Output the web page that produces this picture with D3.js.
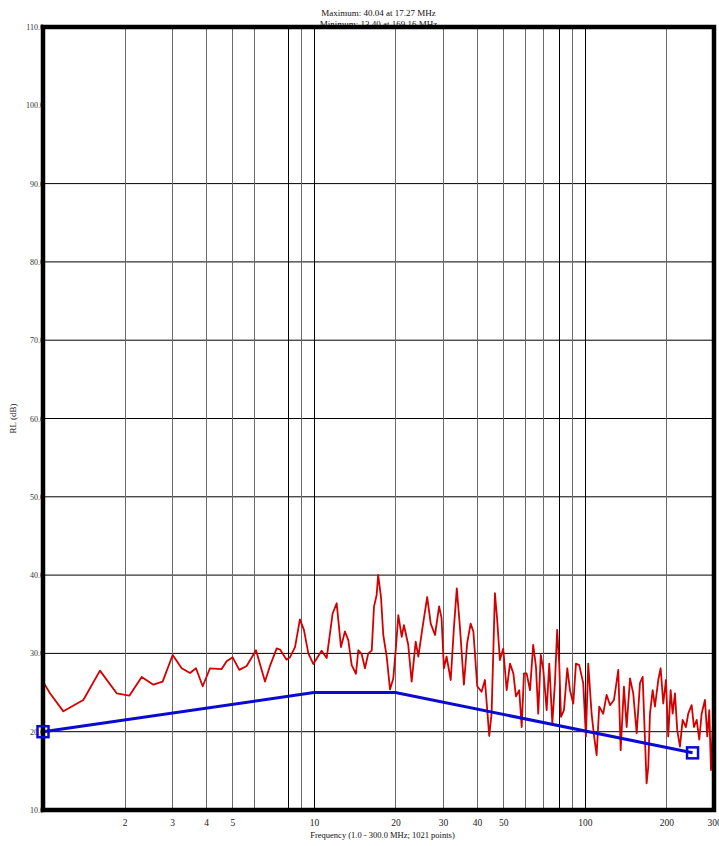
<!DOCTYPE html>
<html>
<head>
<meta charset="utf-8">
<script src="https://cdn.jsdelivr.net/npm/d3@7"></script>
<style>
  body { margin: 0; background: #fff; }
  svg { display: block; }
</style>
</head>
<body>
<svg id="chart"></svg>
<script>
// measured trace (MHz, dB)
const freqMHz = [
  1.0, 1.061, 1.189, 1.409, 1.623, 1.871, 2.083, 2.314, 2.555, 2.765,
  3.011, 3.25, 3.488, 3.671, 3.887, 4.136, 4.566, 4.764, 5.013, 5.305,
  5.648, 6.113, 6.6, 6.886, 7.29,
  7.5, 7.93, 8.16, 8.52, 8.88, 9.19, 9.54, 9.95, 10.68, 11.15,
  11.73, 12.14, 12.59, 13.02, 13.4, 13.79, 14.3, 14.59, 15.02, 15.44,
  15.88, 16.35, 16.67, 17.05, 17.27, 17.69, 18.04, 18.57, 19.1, 19.64,
  20.1, 20.5, 21.1, 21.5, 22.3, 22.96, 23.76, 24.3, 25.2, 26.2,
  27.0, 28.0, 29.0, 29.6, 30.2, 30.9, 32.0, 32.9, 33.7, 34.6,
  35.8, 36.8, 37.9, 38.8, 40.1, 41.6, 42.8, 44.4, 45.3, 46.6, 47.5,
  48.6, 50.0, 51.5, 52.96, 54.5, 55.7, 57.3, 58.5, 59.66, 61.0,
  62.8, 64.5, 66.05, 67.35, 68.8, 70.3, 72.35, 73.96, 75.9, 77.6,
  79.1, 80.5, 81.7, 83.8, 86.2, 88.2, 90.7, 92.8, 95.4, 98.7,
  101.0, 103.0, 106.0, 108.1, 110.6, 113.1, 117.0, 120.4, 123.9, 128.2,
  133.0, 135.7, 139.5, 142.8, 146.9, 151.0, 155.5, 159.9, 163.6, 169.16,
  171.6, 174.1, 178.1, 181.6, 186.8, 190.6, 194.9, 199.4, 203.3, 207.5,
  211.1, 215.3, 219.5, 224.6, 229.8, 236.4, 241.0, 248.1, 253.0, 258.9,
  264.7, 270.1, 277.8, 283.3, 288.2, 292.4, 296.7, 300.0
];
const rlDb = [
  26.4, 24.9, 22.6, 24.05, 27.8, 24.9, 24.6, 27.0, 26.0, 26.4,
  29.8, 28.1, 27.5, 28.1, 25.8, 28.1, 28.0, 29.0, 29.5, 27.9,
  28.4, 30.4, 26.4, 28.4, 30.65,
  30.5, 29.2, 29.5, 30.8, 34.35, 33.0, 30.0, 28.65, 30.35, 29.4,
  35.1, 36.4, 30.8, 32.8, 31.7, 28.5, 27.4, 30.4, 29.9, 28.1,
  30.0, 30.35, 35.97, 37.46, 40.04, 37.2, 32.35, 29.6, 25.4, 26.8,
  30.9, 34.9, 32.1, 33.6, 31.1, 26.4, 31.5, 29.6, 33.4, 37.2,
  33.8, 32.35, 36.0, 34.5, 28.1, 29.6, 26.6, 33.4, 38.3, 33.4,
  26.0, 31.3, 33.8, 32.8, 25.8, 25.1, 26.6, 19.45, 22.35, 37.7, 34.3,
  29.15, 30.6, 25.3, 28.7, 27.45, 24.5, 25.3, 20.6, 27.45, 27.45,
  25.3, 31.1, 28.3, 22.3, 29.8, 27.9, 22.75, 28.7, 21.05, 26.2,
  33.0, 28.7, 21.9, 22.75, 28.1, 25.3, 23.6, 28.7, 28.5, 26.2,
  19.4, 28.7, 22.3, 19.6, 17.0, 23.2, 22.3, 24.7, 23.4, 24.05,
  27.9, 17.65, 25.75, 20.6, 26.8, 24.9, 19.8, 26.2, 27.0, 13.4,
  15.5, 22.3, 25.3, 23.2, 26.6, 28.1, 23.6, 26.6, 19.4, 25.3,
  22.3, 24.9, 20.2, 18.1, 21.5, 20.6, 22.3, 23.4, 20.6, 21.5,
  19.0, 22.3, 24.05, 19.4, 22.75, 15.1, 20.2, 23.2
];

// limit line
const limitFreq = [1, 10, 20, 250];
const limitDb = [20, 25, 25, 17.3];
const markerFreq = [1, 250];
const markerDb = [20, 17.3];

const yTicks = [10, 20, 30, 40, 50, 60, 70, 80, 90, 100, 110];
const yGridTicks = [20, 30, 40, 50, 60, 70, 80, 90];
const xGridGray = [2, 3, 4, 5, 6, 9, 20, 30, 40, 50, 60, 70, 90, 200];
const xGridBlack = [8, 10, 80, 100];
const xTickLabels = [2, 3, 4, 5, 10, 20, 30, 40, 50, 100, 200, 300];
const titleLines = ["Maximum: 40.04 at 17.27 MHz", "Minimum: 13.40 at 169.16 MHz"];
const xTitle = "Frequency (1.0 - 300.0 MHz; 1021 points)";
const yTitle = "RL (dB)";

const W = 719, H = 846;
const margin = { top: 27, right: 5, bottom: 36, left: 43 };
const width = W - margin.left - margin.right;
const height = H - margin.top - margin.bottom;
const serif = "'Liberation Serif', 'Times New Roman', serif";

const svg = d3.select("#chart").attr("width", W).attr("height", H);
svg.append("rect").attr("width", W).attr("height", H).attr("fill", "#fff");

const x = d3.scaleLog().domain([1, 300]).range([0, width]);
const y = d3.scaleLinear().domain([10, 110]).range([height, 0]);

// header text (second line sits under the frame)
svg.selectAll("text.title")
  .data(titleLines)
  .enter().append("text")
  .attr("class", "title")
  .attr("x", margin.left + width / 2)
  .attr("y", (d, i) => 16 + i * 11)
  .attr("text-anchor", "middle")
  .style("font-family", serif)
  .style("font-size", "9px")
  .style("fill", "#111")
  .text(d => d);

const g = svg.append("g").attr("transform", `translate(${margin.left},${margin.top})`);

g.append("clipPath").attr("id", "plot-clip")
  .append("rect").attr("width", width).attr("height", height);

// grid
g.selectAll("line.hgrid")
  .data(yGridTicks)
  .enter().append("line")
  .attr("class", "hgrid")
  .attr("x1", 0).attr("x2", width)
  .attr("y1", d => y(d)).attr("y2", d => y(d))
  .style("stroke", "#000").style("stroke-width", 1);

g.selectAll("line.vgrid-gray")
  .data(xGridGray)
  .enter().append("line")
  .attr("class", "vgrid-gray")
  .attr("x1", d => Math.round(x(d)) + 0.5).attr("x2", d => Math.round(x(d)) + 0.5)
  .attr("y1", 0).attr("y2", height)
  .style("stroke", "#6a6a6a").style("stroke-width", 1);

g.selectAll("line.vgrid-black")
  .data(xGridBlack)
  .enter().append("line")
  .attr("class", "vgrid-black")
  .attr("x1", d => Math.round(x(d)) + 0.5).attr("x2", d => Math.round(x(d)) + 0.5)
  .attr("y1", 0).attr("y2", height)
  .style("stroke", "#000").style("stroke-width", 1);

// measured trace
const trace = freqMHz.map((f, i) => [f, rlDb[i]]);
g.append("path")
  .datum(trace)
  .attr("clip-path", "url(#plot-clip)")
  .attr("fill", "none")
  .attr("stroke", "#d40000")
  .attr("stroke-width", 1.8)
  .attr("stroke-linejoin", "round")
  .attr("d", d3.line().x(d => x(d[0])).y(d => y(d[1])));

// limit
const limit = limitFreq.map((f, i) => [f, limitDb[i]]);
g.append("path")
  .datum(limit)
  .attr("fill", "none")
  .attr("stroke", "#0a0ad0")
  .attr("stroke-width", 3)
  .attr("d", d3.line().x(d => x(d[0])).y(d => y(d[1])));

// axes labels
const yAxis = d3.axisLeft(y).tickValues(yTicks).tickFormat(d3.format(".1f")).tickSize(0).tickPadding(-1);
const yG = g.append("g").call(yAxis);
yG.select(".domain").remove();
yG.selectAll("text").style("font-family", serif).style("font-size", "8px").style("fill", "#333");

const xAxis = d3.axisBottom(x).tickValues(xTickLabels).tickFormat(d3.format("d")).tickSize(0).tickPadding(9);
const xG = g.append("g").attr("transform", `translate(0,${height})`).call(xAxis);
xG.select(".domain").remove();
xG.selectAll("text").style("font-family", serif).style("font-size", "9.5px").style("fill", "#222");

// frame
g.append("rect")
  .attr("width", width).attr("height", height)
  .attr("fill", "none").attr("stroke", "#000").attr("stroke-width", 4.5);

// limit end markers
g.selectAll("rect.marker")
  .data(markerFreq.map((f, i) => [f, markerDb[i]]))
  .enter().append("rect")
  .attr("class", "marker")
  .attr("x", d => x(d[0]) - 5.5).attr("y", d => y(d[1]) - 5.5)
  .attr("width", 11).attr("height", 11)
  .attr("fill", "none").attr("stroke", "#0a0ad0").attr("stroke-width", 2.5);

// axis titles
svg.append("text")
  .attr("x", margin.left + width / 2 + 4)
  .attr("y", 838)
  .attr("text-anchor", "middle")
  .style("font-family", serif).style("font-size", "8.5px").style("fill", "#111")
  .text(xTitle);

svg.append("text")
  .attr("transform", `translate(16,${margin.top + height / 2}) rotate(-90)`)
  .attr("text-anchor", "middle")
  .style("font-family", serif).style("font-size", "9px").style("fill", "#111")
  .text(yTitle);
</script>
</body>
</html>
